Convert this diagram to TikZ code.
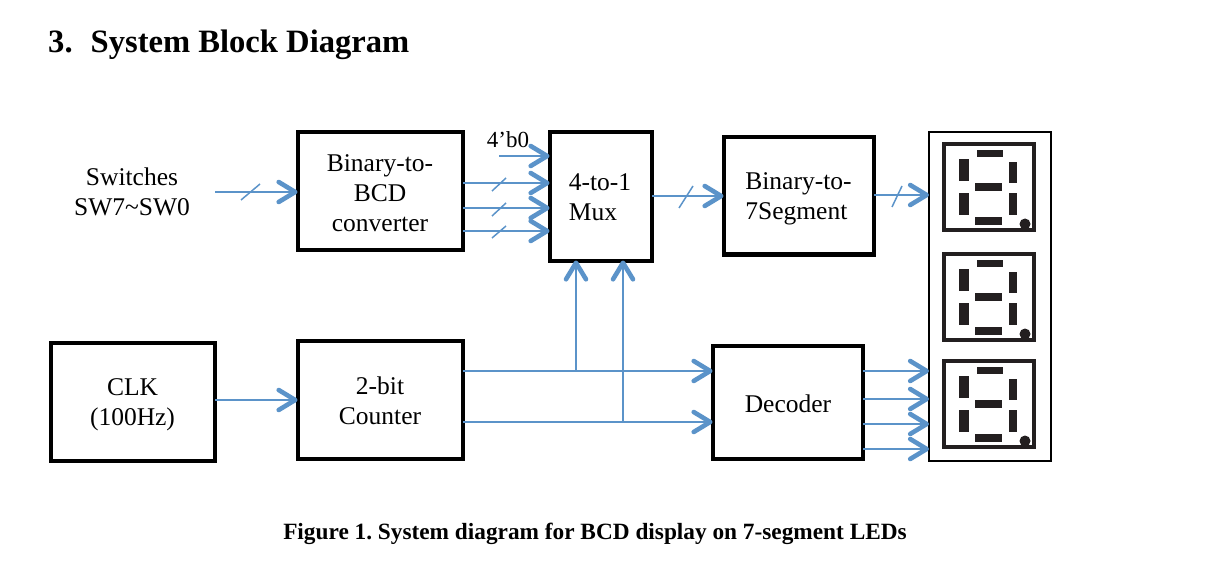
\documentclass[tikz,border=0pt]{standalone}
\usepackage{fontspec}
\setmainfont{Liberation Serif}
\usetikzlibrary{arrows.meta}
\definecolor{wire}{HTML}{5B93C9}
\definecolor{seg}{HTML}{231F20}
\tikzset{
  blk/.style={draw=black,line width=4pt,fill=white,inner sep=0pt,outer sep=0pt},
  lbl/.style={inner sep=0pt,outer sep=0pt,align=center,font=\fontsize{25.5}{30}\selectfont},
  lbll/.style={lbl,align=left},
  wirearrow/.style={draw=wire,line width=2.8pt,-{Straight Barb[length=16.5pt,width=20pt,line width=4.6pt,round]}},
  tickmark/.style={draw=wire,line width=1.5pt},
  segbar/.style={fill=seg,draw=none},
  panel/.style={draw=black,line width=1.3pt,fill=white,inner sep=0pt,outer sep=0pt},
}
\newcommand{\sevenseg}[1]{%
  \begin{scope}[yshift=#1]
    \draw[seg,line width=4pt] (943.5,144) rectangle (1033.5,230);
    \fill[segbar] (977,150) rectangle (1003,157);
    \fill[segbar] (959,159) rectangle (969,181);
    \fill[segbar] (1009,162) rectangle (1017,183);
    \fill[segbar] (975,183) rectangle (1002,191);
    \fill[segbar] (959,193) rectangle (969,215);
    \fill[segbar] (1009,193) rectangle (1017,215);
    \fill[segbar] (975,217) rectangle (1002,225);
    \fill[segbar] (1025,224) circle (5.5);
  \end{scope}}
\begin{document}
\begin{tikzpicture}[x=1pt,y=-1pt]
\useasboundingbox (0,0) rectangle (1225,569);
\node[anchor=west,inner sep=0pt,font=\fontsize{32.6}{38}\selectfont\bfseries] (title) at (48,44.5) {3.\hspace{18pt}System Block Diagram};
\node[inner sep=0pt,font=\fontsize{23.3}{27}\selectfont\bfseries\frenchspacing] (caption) at (595,534) {Figure 1. System diagram for BCD display on 7-segment LEDs};

\node[panel,minimum width=122pt,minimum height=329pt] (panel) at (990,296.5) {};
\sevenseg{0pt}
\sevenseg{-110pt}
\sevenseg{-217pt}

\node[lbl] (sw) at (132,192) {Switches\\SW7\textasciitilde SW0};
\node[blk,minimum width=165pt,minimum height=118pt] (bcd) at (380,191.5) {};
\node[blk,minimum width=102pt,minimum height=128pt] (mux) at (600.5,196.5) {};
\node[blk,minimum width=150pt,minimum height=117pt] (bin7) at (798.5,196) {};
\node[blk,minimum width=164pt,minimum height=118pt] (clk) at (132.5,401.5) {};
\node[blk,minimum width=165pt,minimum height=118pt] (cnt) at (380,399.5) {};
\node[blk,minimum width=150pt,minimum height=113pt] (dec) at (787.5,402) {};
\node[lbl] (bcdt) at (380,193.5) {Binary-to-\\BCD\\converter};
\node[lbll] (muxt) at (600,197.5) {4-to-1\\Mux};
\node[lbll] (bin7t) at (798.5,199) {Binary-to-\\7Segment};
\node[lbl] (clkt) at (132.5,404.5) {CLK\\(100Hz)};
\node[lbl] (cntt) at (380,400.5) {2-bit\\Counter};
\node[lbl] (dect) at (788,404) {Decoder};
\node[lbl,font=\fontsize{23}{27}\selectfont] (zero) at (508,140) {4’b0};

\coordinate (swend) at (215,192);
\coordinate (z0) at (499,156);
\coordinate (b1) at (463,183);
\coordinate (b2) at (463,208);
\coordinate (b3) at (463,231);
\coordinate (m1) at (652,196);
\coordinate (s1) at (874,195);
\coordinate (ck) at (215,400);
\coordinate (c1) at (463,371);
\coordinate (c2) at (463,422);
\coordinate (j1) at (576,371);
\coordinate (j2) at (623,422);
\coordinate (d1) at (863,371);
\coordinate (d2) at (863,399);
\coordinate (d3) at (863,424);
\coordinate (d4) at (863,449);

\draw[wirearrow] (swend) -- (bcd.west|-swend);
\draw[wirearrow] (z0) -- (mux.west|-z0);
\draw[wirearrow] (b1) -- (mux.west|-b1);
\draw[wirearrow] (b2) -- (mux.west|-b2);
\draw[wirearrow] (b3) -- (mux.west|-b3);
\draw[wirearrow] (m1) -- (bin7.west|-m1);
\draw[wirearrow] (s1) -- (panel.west|-s1);
\draw[wirearrow] (ck) -- (cnt.west|-ck);
\draw[wirearrow] (c1) -- (dec.west|-c1);
\draw[wirearrow] (c2) -- (dec.west|-c2);
\draw[wirearrow] (j1) -- (mux.south-|j1);
\draw[wirearrow] (j2) -- (mux.south-|j2);
\draw[wirearrow] (d1) -- (panel.west|-d1);
\draw[wirearrow] (d2) -- (panel.west|-d2);
\draw[wirearrow] (d3) -- (panel.west|-d3);
\draw[wirearrow] (d4) -- (panel.west|-d4);

\draw[tickmark] (241,200) -- (260,184);
\draw[tickmark] (492,191) -- (506,178);
\draw[tickmark] (492,216) -- (506,203);
\draw[tickmark] (492,238) -- (506,226);
\draw[tickmark] (679,208) -- (693,186);
\draw[tickmark] (892,207) -- (902,186);
\end{tikzpicture}
\end{document}
